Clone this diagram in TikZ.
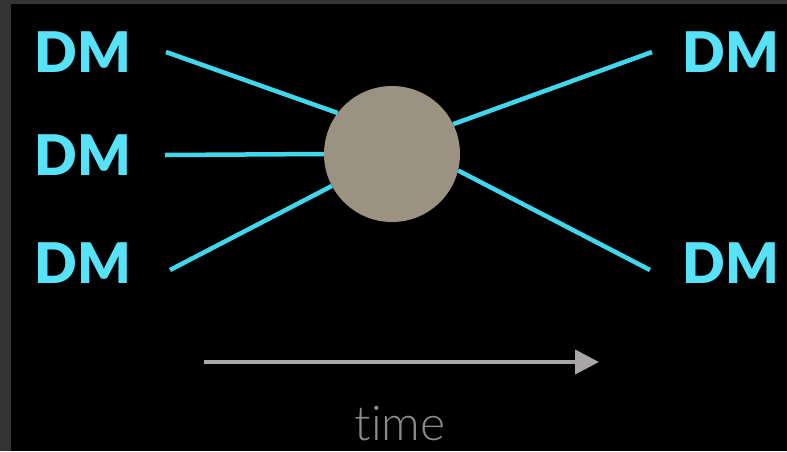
\documentclass[tikz,border=0pt]{standalone}
\usepackage{fontspec}
\setsansfont{Lato}[BoldFont=* Black]
\newfontfamily\timefont{Lato}[UprightFont=* Light, Ligatures=NoCommon]
\usepackage{tikz}
\usetikzlibrary{arrows.meta,positioning,calc}
\definecolor{framegrey}{RGB}{52,52,52}
\definecolor{dmcyan}{RGB}{88,226,248}
\definecolor{linecyan}{RGB}{64,214,236}
\definecolor{blobtaupe}{RGB}{156,146,130}
\definecolor{arrowgrey}{RGB}{168,166,166}
\definecolor{timegrey}{RGB}{140,140,140}
\tikzset{
    dmlabel/.style={inner sep=0pt, text=dmcyan, font=\sffamily\bfseries\fontsize{56}{60}\selectfont},
    dmline/.style={draw=linecyan, line width=4.5pt}
}

\begin{document}
\begin{tikzpicture}[x=1pt, y=-1pt]
            % frame and background
            \fill[framegrey] (0,0) rectangle (787,451);
            \fill[black] (11,4) rectangle (787,451);
            \useasboundingbox (0,0) rectangle (787,451);

            % particles
            \node[dmlabel] (dmInTop) at (83,52) {DM};
            \node[dmlabel] (dmInMid) at (83,155) {DM};
            \node[dmlabel] (dmInLow) at (83,263) {DM};
            \node[dmlabel] (dmOutTop) at (731,52) {DM};
            \node[dmlabel] (dmOutLow) at (731,263) {DM};

            % interaction
            \node[circle, fill=blobtaupe, minimum size=136pt, inner sep=0pt] (blob) at (392,154) {};

            \coordinate (inTop) at (166,52);
            \coordinate (inMid) at (165,155);
            \coordinate (inLow) at (170,270);
            \coordinate (outTop) at (652,52);
            \coordinate (outLow) at (650,270);

            \draw[dmline] (inTop) -- (blob.143);
            \draw[dmline] (inMid) -- (blob.180);
            \draw[dmline] (inLow) -- (blob.208);
            \draw[dmline] (blob.26) -- (outTop);
            \draw[dmline] (blob.346) -- (outLow);

            % time axis
            \coordinate (tStart) at (204,362);
            \coordinate (tEnd) at (599,362);
            \draw[arrowgrey, line width=4pt, -{Triangle[length=24pt,width=24pt]}] (tStart) -- (tEnd);
            \node[text=timegrey, inner sep=0pt, font=\timefont\fontsize{48}{52}\selectfont, anchor=base] (timeLabel) at (400,440) {time};
        \end{tikzpicture}
\end{document}
